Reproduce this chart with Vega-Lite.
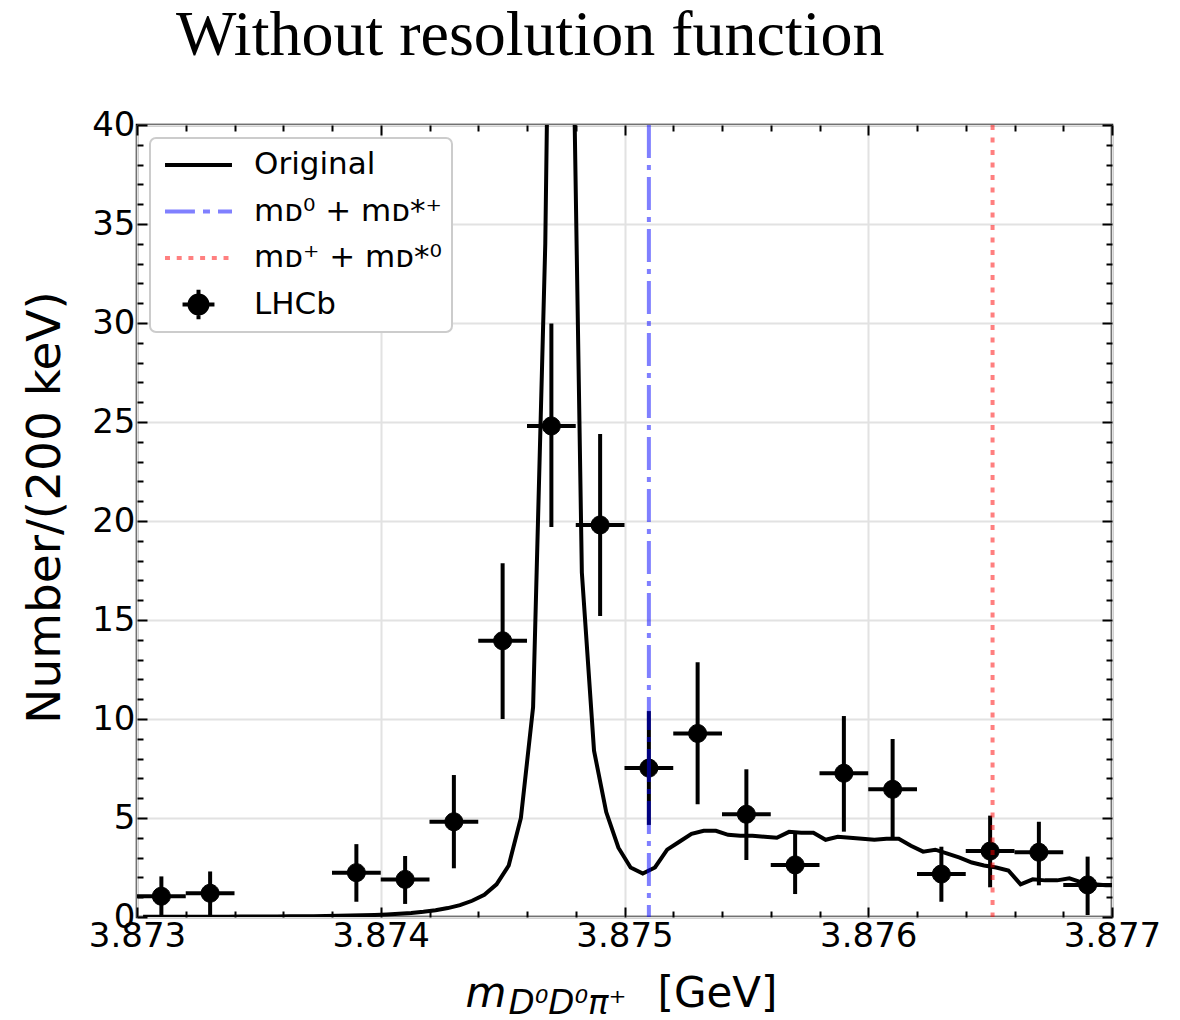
{
  "$schema": "https://vega.github.io/schema/vega-lite/v6.json",
  "width": 975,
  "height": 792,
  "autosize": {"type": "none"},
  "padding": {"left": 137, "top": 125, "right": 68, "bottom": 103},
  "background": "white",
  "title": {"text": "Without resolution function", "font": "Liberation Serif", "fontSize": 64, "fontWeight": "normal", "color": "black", "anchor": "start", "frame": "group", "dx": 39, "offset": -11, "baseline": "alphabetic"},
  "config": {
    "view": {"stroke": "black", "strokeWidth": 2.5},
    "axis": {"domain": false, "grid": false, "labelFont": "DejaVu Sans", "titleFont": "DejaVu Sans", "labelColor": "black", "titleColor": "black", "tickColor": "black", "tickWidth": 2, "labelFlush": false, "labelOverlap": false, "titleFontWeight": "normal"},
    "legend": {"strokeWidth": 2}
  },
  "datasets": {
    "curve": [
      {"m": 3.873025, "n": 0.01}, {"m": 3.873075, "n": 0.01}, {"m": 3.873125, "n": 0.01}, {"m": 3.873175, "n": 0.01},
      {"m": 3.873225, "n": 0.012}, {"m": 3.873275, "n": 0.013}, {"m": 3.873325, "n": 0.015}, {"m": 3.873375, "n": 0.017},
      {"m": 3.873425, "n": 0.02}, {"m": 3.873475, "n": 0.022}, {"m": 3.873525, "n": 0.025}, {"m": 3.873575, "n": 0.028},
      {"m": 3.873625, "n": 0.032}, {"m": 3.873675, "n": 0.036}, {"m": 3.873725, "n": 0.042}, {"m": 3.873775, "n": 0.05},
      {"m": 3.873825, "n": 0.058}, {"m": 3.873875, "n": 0.07}, {"m": 3.873925, "n": 0.085}, {"m": 3.873975, "n": 0.105},
      {"m": 3.874025, "n": 0.13}, {"m": 3.874075, "n": 0.16}, {"m": 3.874125, "n": 0.2}, {"m": 3.874175, "n": 0.26},
      {"m": 3.874225, "n": 0.34}, {"m": 3.874275, "n": 0.45}, {"m": 3.874325, "n": 0.6}, {"m": 3.874375, "n": 0.82},
      {"m": 3.874425, "n": 1.12}, {"m": 3.874475, "n": 1.65}, {"m": 3.874525, "n": 2.6}, {"m": 3.874575, "n": 5.0},
      {"m": 3.874625, "n": 10.6}, {"m": 3.874675, "n": 34}, {"m": 3.874725, "n": 80}, {"m": 3.874775, "n": 56},
      {"m": 3.874825, "n": 17.4}, {"m": 3.874875, "n": 8.4}, {"m": 3.874925, "n": 5.3}, {"m": 3.874975, "n": 3.5},
      {"m": 3.875025, "n": 2.5}, {"m": 3.875075, "n": 2.2}, {"m": 3.875125, "n": 2.5}, {"m": 3.875175, "n": 3.4},
      {"m": 3.875225, "n": 3.8}, {"m": 3.875275, "n": 4.2}, {"m": 3.875325, "n": 4.35}, {"m": 3.875375, "n": 4.35},
      {"m": 3.875425, "n": 4.15}, {"m": 3.875475, "n": 4.1}, {"m": 3.875525, "n": 4.1}, {"m": 3.875575, "n": 4.05},
      {"m": 3.875625, "n": 4.0}, {"m": 3.875675, "n": 4.3}, {"m": 3.875725, "n": 4.25}, {"m": 3.875775, "n": 4.25},
      {"m": 3.875825, "n": 3.9}, {"m": 3.875875, "n": 4.05}, {"m": 3.875925, "n": 4.0}, {"m": 3.875975, "n": 3.95},
      {"m": 3.876025, "n": 3.9}, {"m": 3.876075, "n": 3.95}, {"m": 3.876125, "n": 3.95}, {"m": 3.876175, "n": 3.6},
      {"m": 3.876225, "n": 3.3}, {"m": 3.876275, "n": 3.4}, {"m": 3.876325, "n": 3.2}, {"m": 3.876375, "n": 3.0},
      {"m": 3.876425, "n": 2.75}, {"m": 3.876475, "n": 2.6}, {"m": 3.876525, "n": 2.5}, {"m": 3.876575, "n": 2.35},
      {"m": 3.876625, "n": 1.65}, {"m": 3.876675, "n": 1.9}, {"m": 3.876725, "n": 1.85}, {"m": 3.876775, "n": 1.85},
      {"m": 3.876825, "n": 1.95}, {"m": 3.876875, "n": 1.75}, {"m": 3.876925, "n": 1.65}, {"m": 3.876975, "n": 1.6},
      {"m": 3.877025, "n": 1.6}
    ],
    "pts": [
      {"m": 3.8731, "mlo": 3.8730, "mhi": 3.8732, "n": 1.05, "lo": 0.0, "hi": 2.05, "series": "LHCb"},
      {"m": 3.8733, "mlo": 3.8732, "mhi": 3.8734, "n": 1.2, "lo": 0.1, "hi": 2.3, "series": "LHCb"},
      {"m": 3.8739, "mlo": 3.8738, "mhi": 3.8740, "n": 2.24, "lo": 0.77, "hi": 3.68, "series": "LHCb"},
      {"m": 3.8741, "mlo": 3.8740, "mhi": 3.8742, "n": 1.9, "lo": 0.66, "hi": 3.08, "series": "LHCb"},
      {"m": 3.8743, "mlo": 3.8742, "mhi": 3.8744, "n": 4.81, "lo": 2.46, "hi": 7.17, "series": "LHCb"},
      {"m": 3.8745, "mlo": 3.8744, "mhi": 3.8746, "n": 13.95, "lo": 10.0, "hi": 17.86, "series": "LHCb"},
      {"m": 3.8747, "mlo": 3.8746, "mhi": 3.8748, "n": 24.8, "lo": 19.7, "hi": 29.98, "series": "LHCb"},
      {"m": 3.8749, "mlo": 3.8748, "mhi": 3.8750, "n": 19.8, "lo": 15.2, "hi": 24.4, "series": "LHCb"},
      {"m": 3.8751, "mlo": 3.8750, "mhi": 3.8752, "n": 7.52, "lo": 4.65, "hi": 10.4, "series": "LHCb"},
      {"m": 3.8753, "mlo": 3.8752, "mhi": 3.8754, "n": 9.27, "lo": 5.7, "hi": 12.86, "series": "LHCb"},
      {"m": 3.8755, "mlo": 3.8754, "mhi": 3.8756, "n": 5.19, "lo": 2.88, "hi": 7.46, "series": "LHCb"},
      {"m": 3.8757, "mlo": 3.8756, "mhi": 3.8758, "n": 2.63, "lo": 1.16, "hi": 4.2, "series": "LHCb"},
      {"m": 3.8759, "mlo": 3.8758, "mhi": 3.8760, "n": 7.26, "lo": 4.31, "hi": 10.15, "series": "LHCb"},
      {"m": 3.8761, "mlo": 3.8760, "mhi": 3.8762, "n": 6.45, "lo": 3.97, "hi": 8.99, "series": "LHCb"},
      {"m": 3.8763, "mlo": 3.8762, "mhi": 3.8764, "n": 2.17, "lo": 0.77, "hi": 3.55, "series": "LHCb"},
      {"m": 3.8765, "mlo": 3.8764, "mhi": 3.8766, "n": 3.33, "lo": 1.5, "hi": 5.12, "series": "LHCb"},
      {"m": 3.8767, "mlo": 3.8766, "mhi": 3.8768, "n": 3.27, "lo": 1.6, "hi": 4.81, "series": "LHCb"},
      {"m": 3.8769, "mlo": 3.8768, "mhi": 3.8770, "n": 1.62, "lo": 0.1, "hi": 3.05, "series": "LHCb"}
    ],
    "thr": [
      {"m": 3.87510, "which": "D0Dstp"},
      {"m": 3.87651, "which": "DpDst0"}
    ]
  },
  "layer": [
    {
      "data": {"name": "curve"},
      "mark": {"type": "line", "color": "black", "strokeWidth": 4, "clip": true},
      "encoding": {
        "x": {"field": "m", "type": "quantitative", "scale": {"domain": [3.873, 3.877], "nice": false, "zero": false},
          "axis": {"orient": "bottom", "values": [3.873, 3.874, 3.875, 3.876, 3.877], "format": ".3f", "labelFontSize": 34, "labelPadding": 12, "tickSize": -10, "grid": true, "gridColor": "#e2e2e2", "gridWidth": 2,
            "title": "m", "titleFontStyle": "italic", "titleFontSize": 42, "titleX": 328, "titleY": 89, "titleAlign": "left", "titleBaseline": "alphabetic"}},
        "y": {"field": "n", "type": "quantitative", "scale": {"domain": [0, 40], "nice": false, "zero": false},
          "axis": {"orient": "left", "values": [0, 5, 10, 15, 20, 25, 30, 35, 40], "labelFontSize": 34, "labelPadding": 12, "tickSize": -10, "grid": true, "gridColor": "#e2e2e2", "gridWidth": 2,
            "title": "Number/(200 keV)", "titleFontSize": 47, "titleX": -92, "titleY": 382, "titleAlign": "center", "titleBaseline": "middle", "titleAngle": -90}}
      }
    },
    {
      "data": {"name": "pts"},
      "mark": {"type": "rule", "color": "black", "strokeWidth": 4},
      "encoding": {
        "x": {"field": "m", "type": "quantitative", "scale": {"domain": [3.873, 3.877], "nice": false, "zero": false},
          "axis": {"orient": "bottom", "values": [3.8732, 3.8734, 3.8736, 3.8738, 3.8742, 3.8744, 3.8746, 3.8748, 3.8752, 3.8754, 3.8756, 3.8758, 3.8762, 3.8764, 3.8766, 3.8768], "labels": false, "tickSize": -6,
            "title": "D⁰D⁰π⁺", "titleFontStyle": "italic", "titleFontSize": 34, "titleX": 371, "titleY": 96, "titleAlign": "left", "titleBaseline": "alphabetic"}},
        "y": {"field": "lo", "type": "quantitative", "scale": {"domain": [0, 40], "nice": false, "zero": false},
          "axis": {"orient": "left", "values": [1, 2, 3, 4, 6, 7, 8, 9, 11, 12, 13, 14, 16, 17, 18, 19, 21, 22, 23, 24, 26, 27, 28, 29, 31, 32, 33, 34, 36, 37, 38, 39], "labels": false, "tickSize": -6, "title": null}},
        "y2": {"field": "hi"}
      }
    },
    {
      "data": {"name": "pts"},
      "mark": {"type": "rule", "color": "black", "strokeWidth": 4},
      "encoding": {
        "x": {"field": "mlo", "type": "quantitative", "scale": {"domain": [3.873, 3.877], "nice": false, "zero": false},
          "axis": {"orient": "top", "values": [3.873, 3.874, 3.875, 3.876, 3.877], "labels": false, "tickSize": -10, "title": null}},
        "x2": {"field": "mhi"},
        "y": {"field": "n", "type": "quantitative", "scale": {"domain": [0, 40], "nice": false, "zero": false},
          "axis": {"orient": "right", "values": [0, 5, 10, 15, 20, 25, 30, 35, 40], "labels": false, "tickSize": -10, "title": null}}
      }
    },
    {
      "data": {"name": "pts"},
      "mark": {"type": "point", "filled": true, "size": 961, "opacity": 1, "strokeWidth": 1},
      "encoding": {
        "x": {"field": "m", "type": "quantitative", "scale": {"domain": [3.873, 3.877], "nice": false, "zero": false},
          "axis": {"orient": "top", "values": [3.8732, 3.8734, 3.8736, 3.8738, 3.8742, 3.8744, 3.8746, 3.8748, 3.8752, 3.8754, 3.8756, 3.8758, 3.8762, 3.8764, 3.8766, 3.8768], "labels": false, "tickSize": -6, "title": null}},
        "y": {"field": "n", "type": "quantitative", "scale": {"domain": [0, 40], "nice": false, "zero": false},
          "axis": {"orient": "right", "values": [1, 2, 3, 4, 6, 7, 8, 9, 11, 12, 13, 14, 16, 17, 18, 19, 21, 22, 23, 24, 26, 27, 28, 29, 31, 32, 33, 34, 36, 37, 38, 39], "labels": false, "tickSize": -6, "title": null}},
        "fill": {"field": "series", "type": "nominal",
          "scale": {"domain": ["Original", "mᴅ⁰ + mᴅ*⁺", "mᴅ⁺ + mᴅ*⁰", "LHCb"], "range": ["#000000", "#8080ff", "#ff8080", "#000000"]},
          "legend": {"orient": "none", "legendX": 13, "legendY": 13, "title": null, "labelFont": "DejaVu Sans", "labelFontSize": 31, "labelColor": "black", "labelLimit": 600, "symbolSize": 961, "symbolStrokeWidth": 4, "symbolOpacity": 1, "symbolOffset": 21, "labelOffset": 38, "clipHeight": 34, "rowPadding": 12.5, "padding": 10, "fillColor": "white", "strokeColor": "#cccccc", "cornerRadius": 6}},
        "stroke": {"field": "series", "type": "nominal",
          "scale": {"domain": ["Original", "mᴅ⁰ + mᴅ*⁺", "mᴅ⁺ + mᴅ*⁰", "LHCb"], "range": ["#000000", "#8080ff", "#ff8080", "#000000"]}},
        "shape": {"field": "series", "type": "nominal",
          "scale": {"domain": ["Original", "mᴅ⁰ + mᴅ*⁺", "mᴅ⁺ + mᴅ*⁰", "LHCb"], "range": ["M-2.16,0H2.16", "M-2.16,0H-0.23M0.29,0H0.74M1.26,0H2.16", "M-2.16,0H-1.84M-1.405,0H-1.085M-0.65,0H-0.33M0.105,0H0.425M0.86,0H1.18M1.615,0H1.935", "M-1.03,0H1.03M0,-0.95V0.95M-0.58,0A0.58,0.58 0 1,0 0.58,0A0.58,0.58 0 1,0 -0.58,0Z"]}}
      }
    },
    {
      "data": {"name": "thr"},
      "transform": [{"filter": "datum.which === 'D0Dstp'"}],
      "mark": {"type": "rule", "color": "#0000ff", "opacity": 0.5, "strokeWidth": 4, "strokeDash": [33, 7, 5, 7]},
      "encoding": {
        "x": {"field": "m", "type": "quantitative", "scale": {"domain": [3.873, 3.877], "nice": false, "zero": false},
          "axis": {"orient": "bottom", "labels": false, "ticks": false, "title": "[GeV]", "titleFontSize": 42, "titleX": 520, "titleY": 89, "titleAlign": "left", "titleBaseline": "alphabetic"}}
      }
    },
    {
      "data": {"name": "thr"},
      "transform": [{"filter": "datum.which === 'DpDst0'"}],
      "mark": {"type": "rule", "color": "#ff0000", "opacity": 0.5, "strokeWidth": 4, "strokeDash": [5, 7.5]},
      "encoding": {
        "x": {"field": "m", "type": "quantitative", "scale": {"domain": [3.873, 3.877], "nice": false, "zero": false}, "axis": null}
      }
    }
  ],
  "resolve": {"axis": {"x": "independent", "y": "independent"}}
}
